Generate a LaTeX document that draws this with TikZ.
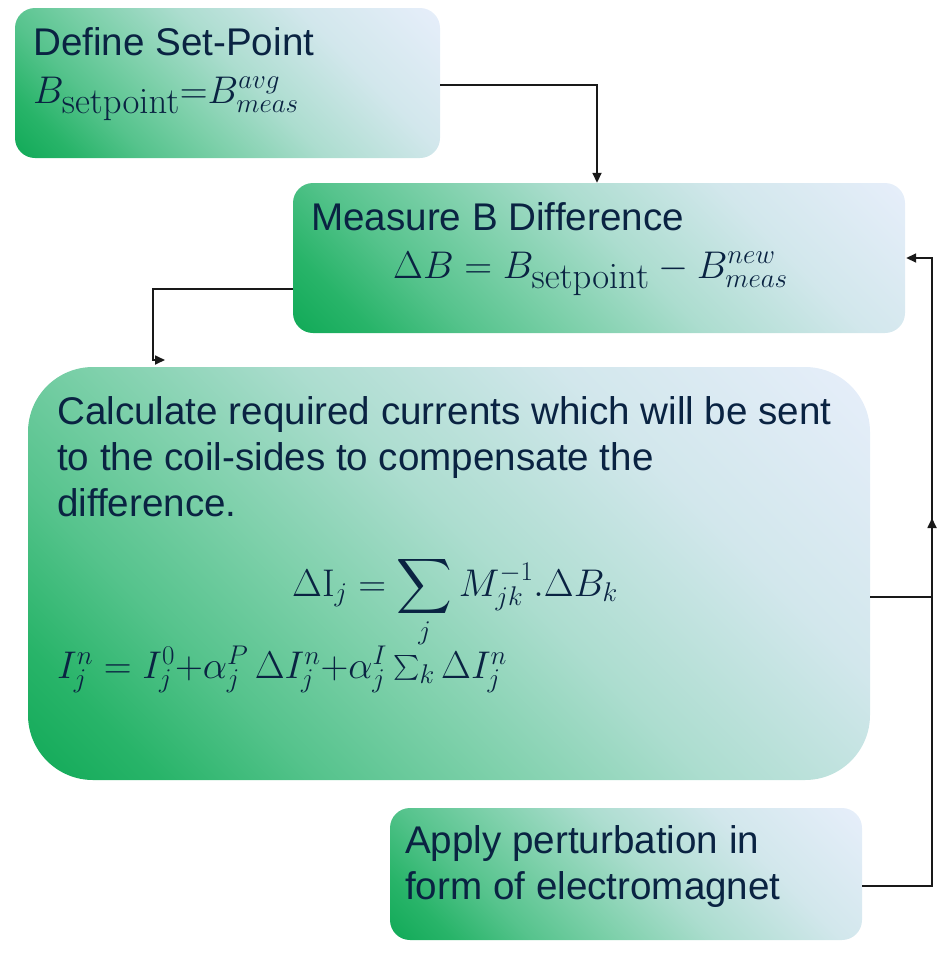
\RequirePackage{fix-cm}
\documentclass[tikz,border=0pt]{standalone}
\usepackage{amsmath}
\usepackage[no-math]{fontspec}
\setmainfont{Liberation Sans}
\usetikzlibrary{arrows.meta}
\definecolor{txt}{RGB}{10,35,66}
\definecolor{gA}{RGB}{18,170,88}
\definecolor{gA2}{RGB}{40,180,105}
\definecolor{gB}{RGB}{85,195,140}
\definecolor{gB2}{RGB}{125,208,170}
\definecolor{gC}{RGB}{172,221,207}
\definecolor{gE}{RGB}{210,231,236}
\definecolor{gD}{RGB}{230,238,250}
\pgfdeclareverticalshading{boxshade}{100bp}{color(0bp)=(gA); color(15bp)=(gA); color(22bp)=(gA2); color(31bp)=(gB); color(41bp)=(gB2); color(53bp)=(gC); color(68bp)=(gE); color(85bp)=(gD); color(100bp)=(gD)}
\newcommand{\subrm}[1]{\scalebox{0.95}{$\mathrm{#1}$}}
\newcommand{\bigsum}{\mathop{\vcenter{\hbox{\scalebox{1.55}{$\displaystyle\sum$}}}}\limits}
\tikzset{
  box/.style={rectangle, rounded corners=20pt, shading=boxshade, shading angle=-45, draw=none, inner sep=0pt},
  lbl/.style={anchor=base west, inner sep=0pt, text=txt, font=\fontsize{38.6}{46}\selectfont},
  conn/.style={draw=black!90, line width=1.7pt},
  tip/.style={-{Triangle[length=10pt,width=9pt]}}
}
\begin{document}
\begin{tikzpicture}[x=1pt,y=-1pt]
\useasboundingbox (0,0) rectangle (950,956);
% boxes
\node[box, minimum width=425pt, minimum height=150pt] (b1) at (227.5,83) {};
\node[box, minimum width=612pt, minimum height=150pt] (b2) at (599,258) {};
\node[box, rounded corners=65pt, minimum width=842pt, minimum height=413pt] (b3) at (449,573.5) {};
\node[box, minimum width=472pt, minimum height=132pt] (b4) at (626,874) {};
% texts
\node[lbl] (t1a) at (33,55) {Define Set-Point};
\node[lbl] (t1b) at (33,103) {$B_{\subrm{setpoint}}{=}B^{avg}_{meas}$};
\node[lbl] (t2a) at (311,230) {Measure B Difference};
\node[lbl] (t2b) at (393,278) {$\Delta B = B_{\subrm{setpoint}} - B^{new}_{meas}$};
\node[lbl] (t3a) at (57,424) {Calculate required currents which will be sent};
\node[lbl] (t3b) at (57,470) {to the coil-sides to compensate the};
\node[lbl] (t3c) at (57,516) {difference.};
\node[lbl] (t3d) at (292,596) {$\displaystyle \Delta\mathrm{I}_j = \bigsum_j M^{-1}_{jk}.\Delta B_k$};
\node[lbl] (t3e) at (57,678) {$I^n_j = I^0_j{+}\alpha^P_j\,\Delta I^n_j{+}\alpha^I_j \textstyle\sum_k \Delta I^n_j$};
\node[lbl] (t4a) at (405,853) {Apply perturbation in};
\node[lbl] (t4b) at (405,899) {form of electromagnet};
% connector points
\coordinate (c1) at (597,85);
\coordinate (c2a) at (293,289);
\coordinate (c2b) at (153,289);
\coordinate (c2c) at (153,360);
\coordinate (c2d) at (165,360);
\coordinate (c3a) at (932,597);
\coordinate (c3b) at (932,518);
\coordinate (c4a) at (932,886);
\coordinate (c4b) at (932,258);
% connectors
\draw[conn, tip] (b1.east |- c1) -- (c1) -- (c1 |- b2.north);
\draw[conn, tip] (c2a) -- (c2b) -- (c2c) -- (c2d);
\draw[conn, tip] (b3.east |- c3a) -- (c3a) -- (c3b);
\draw[conn, tip] (b4.east |- c4a) -- (c4a) -- (c4b) -- ([xshift=1pt]b2.east |- c4b);
\end{tikzpicture}
\end{document}
